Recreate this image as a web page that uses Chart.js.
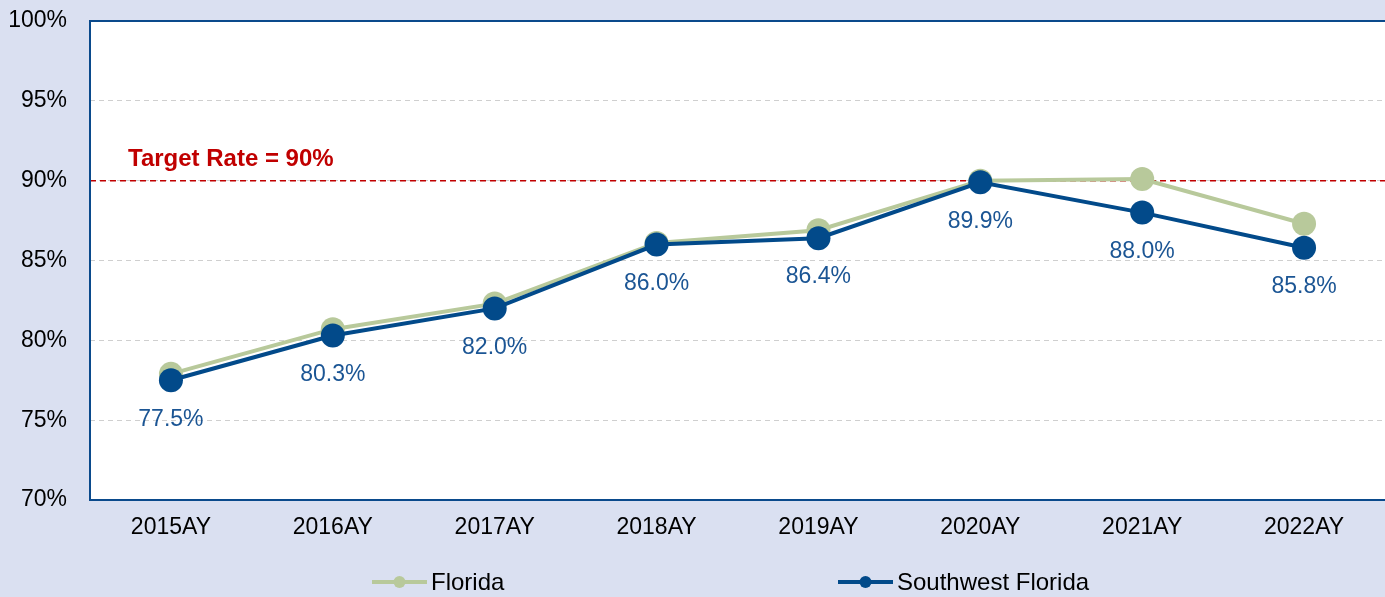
<!DOCTYPE html>
<html>
<head>
<meta charset="utf-8">
<script src="https://cdn.jsdelivr.net/npm/chart.js@4.4.1/dist/chart.umd.min.js"></script>
<style>
  html, body { margin: 0; padding: 0; background: #dae0f1; overflow: hidden; }
  canvas { display: block; }
</style>
</head>
<body>
<canvas id="c" width="1397" height="597"></canvas>
<script>
const years = ["2015AY", "2016AY", "2017AY", "2018AY", "2019AY", "2020AY", "2021AY", "2022AY"];
const florida = [77.9, 80.7, 82.3, 86.1, 86.9, 90.0, 90.1, 87.3];
const swFlorida = [77.5, 80.3, 82.0, 86.0, 86.4, 89.9, 88.0, 85.8];
const targetRate = 90;
const targetLabel = "Target Rate = 90%";

const greenColor = "#b8c99b";
const blueColor = "#024a8a";
const labelColor = "#1b5594";
const redColor = "#c00000";
const font = "'Liberation Sans', Arial, sans-serif";

// white plot box + border lines + target line
const plotDecor = {
    id: "plotDecor",
    beforeDraw(chart) {
        const { ctx, chartArea: a } = chart;
        ctx.save();
        ctx.fillStyle = "#ffffff";
        ctx.fillRect(a.left, a.top, a.right - a.left, a.bottom - a.top);
        ctx.restore();
    },
    beforeDatasetsDraw(chart) {
        const { ctx, chartArea: a, scales } = chart;
        const y = scales.y.getPixelForValue(targetRate);
        ctx.save();
        ctx.strokeStyle = redColor;
        ctx.lineWidth = 1.5;
        ctx.setLineDash([6, 4]);
        ctx.beginPath();
        ctx.moveTo(a.left, y);
        ctx.lineTo(a.right, y);
        ctx.stroke();
        ctx.setLineDash([]);
        ctx.fillStyle = redColor;
        ctx.font = "bold 24px " + font;
        ctx.textBaseline = "alphabetic";
        ctx.fillText(targetLabel, a.left + 38, y - 15);

        ctx.strokeStyle = "#0a4a8c";
        ctx.lineWidth = 2;
        ctx.beginPath();
        ctx.moveTo(a.right, a.top);
        ctx.lineTo(a.left, a.top);
        ctx.lineTo(a.left, a.bottom);
        ctx.lineTo(a.right, a.bottom);
        ctx.stroke();
        ctx.restore();
    },
    afterDatasetsDraw(chart) {
        const { ctx } = chart;
        const meta = chart.getDatasetMeta(0);
        ctx.save();
        ctx.fillStyle = labelColor;
        ctx.font = "23px " + font;
        ctx.textAlign = "center";
        ctx.textBaseline = "middle";
        meta.data.forEach(function (pt, i) {
            ctx.fillText(swFlorida[i].toFixed(1) + "%", pt.x, pt.y + 39);
        });
        ctx.restore();
    },
    afterDraw(chart) {
        const { ctx } = chart;
        const items = [
            { label: "Florida", color: greenColor, x: 372 },
            { label: "Southwest Florida", color: blueColor, x: 838 }
        ];
        const y = 582;
        ctx.save();
        items.forEach(function (it) {
            ctx.strokeStyle = it.color;
            ctx.lineWidth = 4;
            ctx.beginPath();
            ctx.moveTo(it.x, y);
            ctx.lineTo(it.x + 55, y);
            ctx.stroke();
            ctx.fillStyle = it.color;
            ctx.beginPath();
            ctx.arc(it.x + 27.5, y, 6, 0, Math.PI * 2);
            ctx.fill();
            ctx.fillStyle = "#000000";
            ctx.font = "24px " + font;
            ctx.textBaseline = "middle";
            ctx.fillText(it.label, it.x + 59, y + 1);
        });
        ctx.restore();
    }
};

new Chart(document.getElementById("c"), {
    type: "line",
    data: {
        labels: years,
        datasets: [{
            label: "Southwest Florida",
            data: swFlorida,
            borderColor: blueColor,
            backgroundColor: blueColor,
            borderWidth: 4,
            pointRadius: 12,
            pointHoverRadius: 12,
            pointBorderWidth: 0,
            order: 0
        }, {
            label: "Florida",
            data: florida,
            borderColor: greenColor,
            backgroundColor: greenColor,
            borderWidth: 4,
            pointRadius: 12,
            pointHoverRadius: 12,
            pointBorderWidth: 0,
            order: 1
        }]
    },
    options: {
        responsive: false,
        animation: false,
        layout: { padding: { top: 21, right: 0, left: 0, bottom: 0 } },
        plugins: {
            legend: { display: false },
            tooltip: { enabled: false }
        },
        scales: {
            x: {
                offset: true,
                grid: { display: false, drawTicks: false, offset: true },
                border: { display: false },
                ticks: { color: "#000000", font: { family: font, size: 23 }, padding: 14, maxRotation: 0 },
                afterFit(scale) {
                    scale.height = 97;
                    scale.paddingLeft = 0;
                    scale.paddingRight = 0;
                }
            },
            y: {
                min: 70,
                max: 100,
                grid: { color: "#cfcfcf", drawTicks: false, lineWidth: 1 },
                border: { display: false, dash: [5, 4] },
                ticks: {
                    stepSize: 5,
                    color: "#000000",
                    font: { family: font, size: 23 },
                    padding: 23,
                    callback: function (v) { return v + "%"; }
                },
                afterFit(scale) {
                    scale.width = 90;
                    scale.paddingTop = 0;
                    scale.paddingBottom = 0;
                }
            }
        }
    },
    plugins: [plotDecor]
});
</script>
</body>
</html>
